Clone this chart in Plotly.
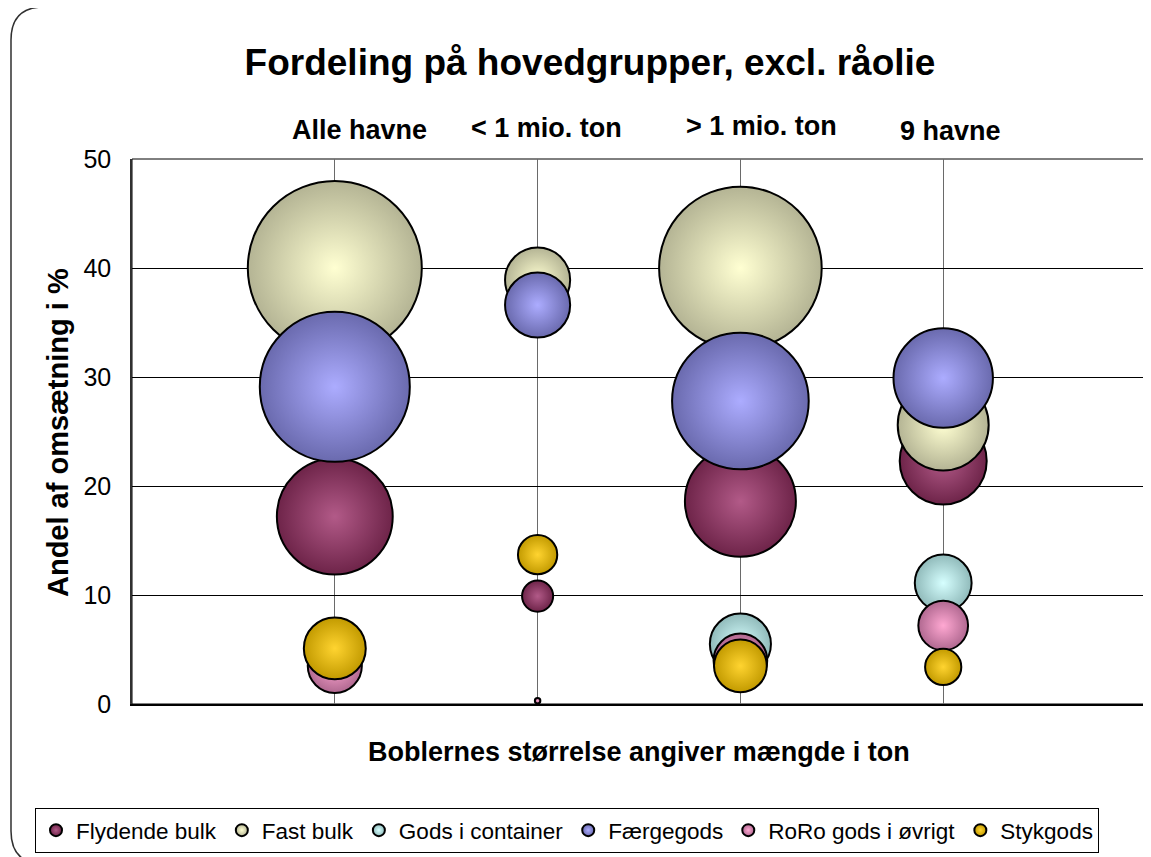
import plotly.graph_objects as go

# ---------------- data ----------------
categories = ["Alle havne", "< 1 mio. ton", "> 1 mio. ton", "9 havne"]
cat_x = [1, 2, 3, 4]
series_names = ["Flydende bulk", "Fast bulk", "Gods i container",
                "Færgegods", "RoRo gods i øvrigt", "Stykgods"]

# Andel af omsætning i % (y position)
flydende_pct = [17.2, 9.9, 18.6, 22.3]
fast_pct = [40.0, 38.9, 40.0, 25.6]
container_pct = [5.0, None, 5.5, 11.1]
faerge_pct = [29.1, 36.6, 27.8, 29.9]
roro_pct = [3.5, 0.3, 4.0, 7.2]
styk_pct = [5.1, 13.7, 3.5, 3.4]

# Mængde (bubble size, estimated, mio. ton)
flydende_ton = [13.3, 0.96, 12.2, 7.5]
fast_ton = [30.0, 4.2, 26.2, 8.2]
container_ton = [3.6, None, 3.7, 3.2]
faerge_ton = [22.3, 4.2, 18.5, 9.8]
roro_ton = [2.9, 0.03, 2.85, 2.45]
styk_ton = [3.8, 1.53, 2.76, 1.3]

pct_values = [flydende_pct, fast_pct, container_pct, faerge_pct, roro_pct, styk_pct]
ton_values = [flydende_ton, fast_ton, container_ton, faerge_ton, roro_ton, styk_ton]

# styles (radial gradient: centre highlight -> darker rim)
center_colors = ["#B25A88", "#FFFFD2", "#D6FFFF", "#ACACFF", "#FFA8D2", "#FFD430"]
edge_colors = ["#6E2449", "#B4B494", "#90BABA", "#6A6AAE", "#B06890", "#C29A00"]

FONT = "Liberation Sans, Arial, sans-serif"

# ---------------- layout geometry (pixels, page body has 8px offset) ----------------
OFF = 8
W, H = 1151 - OFF, 857 - OFF
PL, PR, PT, PB = 132 - OFF, 1146 - OFF, 159 - OFF, 704 - OFF


def px_x(px):
    return (px - OFF - PL) / (PR - PL)


def px_y(py):
    return (PB - (py - OFF)) / (PB - PT)


max_size = max(v for arr in ton_values for v in arr if v is not None)
max_diam = 174
sizeref = 2.0 * max_size / (max_diam ** 2)

fig = go.Figure()
for name, ys, ss, cc, ec in zip(series_names, pct_values, ton_values, center_colors, edge_colors):
    xs, yy, sz = [], [], []
    for x, y, s in zip(cat_x, ys, ss):
        if y is None or s is None:
            continue
        xs.append(x)
        yy.append(y)
        sz.append(s)
    fig.add_trace(go.Scatter(
        x=xs, y=yy, mode="markers", name=name,
        marker=dict(size=sz, sizemode="area", sizeref=sizeref,
                    color=ec, gradient=dict(type="radial", color=cc),
                    line=dict(color="black", width=2), opacity=1),
        cliponaxis=False,
        hovertemplate=name + ": %{y}%<extra></extra>",
    ))

# rounded outer frame (screen pixel coordinates)
L, T, R, B, r = 11, 7, 1175, 864, 33
pts = lambda x, y: f"{px_x(x):.5f},{px_y(y):.5f}"
frame_path = (
    f"M {pts(L, T + r)} Q {pts(L, T)} {pts(L + r, T)} "
    f"L {pts(R - r, T)} Q {pts(R, T)} {pts(R, T + r)} "
    f"L {pts(R, B - r)} Q {pts(R, B)} {pts(R - r, B)} "
    f"L {pts(L + r, B)} Q {pts(L, B)} {pts(L, B - r)} Z"
)

shapes = [
    dict(type="path", xref="paper", yref="paper", path=frame_path,
         line=dict(color="#303030", width=1.5), layer="below"),
    dict(type="rect", xref="paper", yref="paper", x0=0, x1=1, y0=0, y1=1,
         line=dict(color="black", width=1), layer="below"),
]

annotations = []
label_px = [(359.5, 130), (546, 128), (761, 126), (950, 131)]
for txt, (lx, ly) in zip(categories, label_px):
    annotations.append(dict(text=f"<b>{txt}</b>", xref="paper", yref="paper",
                            x=px_x(lx), y=px_y(ly), showarrow=False,
                            xanchor="center", yanchor="middle",
                            font=dict(family=FONT, size=27, color="black")))
annotations.append(dict(text="<b>Andel af omsætning i %</b>", xref="paper", yref="paper",
                        x=px_x(58), y=px_y(433), showarrow=False, textangle=-90,
                        xanchor="center", yanchor="middle",
                        font=dict(family=FONT, size=29, color="black")))
annotations.append(dict(text="<b>Boblernes størrelse angiver mængde i ton</b>",
                        xref="paper", yref="paper",
                        x=px_x(639), y=px_y(752), showarrow=False,
                        xanchor="center", yanchor="middle",
                        font=dict(family=FONT, size=27, color="black")))

fig.update_layout(
    width=W, height=H,
    margin=dict(l=PL, r=W - PR, t=PT, b=H - PB, autoexpand=False),
    paper_bgcolor="white", plot_bgcolor="white",
    title=dict(text="<b>Fordeling på hovedgrupper, excl. råolie</b>",
               x=(590 - OFF) / W, xref="container", xanchor="center",
               y=1 - (62 - OFF) / H, yref="container", yanchor="middle",
               font=dict(family=FONT, size=37, color="black")),
    xaxis=dict(range=[0, 5], tickvals=cat_x, showticklabels=False,
               showgrid=True, gridcolor="#6a6a6a", gridwidth=1,
               zeroline=False, showline=True, linecolor="black", linewidth=2,
               ticks="", fixedrange=True),
    yaxis=dict(range=[0, 50], dtick=10, showgrid=True, gridcolor="black",
               gridwidth=1, zeroline=False, showline=True, linecolor="#303030",
               linewidth=1.5, ticks="", ticklabelstandoff=14,
               tickfont=dict(family=FONT, size=25, color="black"), fixedrange=True),
    showlegend=True,
    legend=dict(orientation="h", x=px_x(35), y=px_y(808), xanchor="left", yanchor="top",
                bordercolor="black", borderwidth=1, bgcolor="white",
                font=dict(family=FONT, size=22.5, color="black"),
                itemsizing="constant", itemwidth=30, tracegroupgap=0),
    shapes=shapes,
    annotations=annotations,
)

fig.write_html("out.html")
